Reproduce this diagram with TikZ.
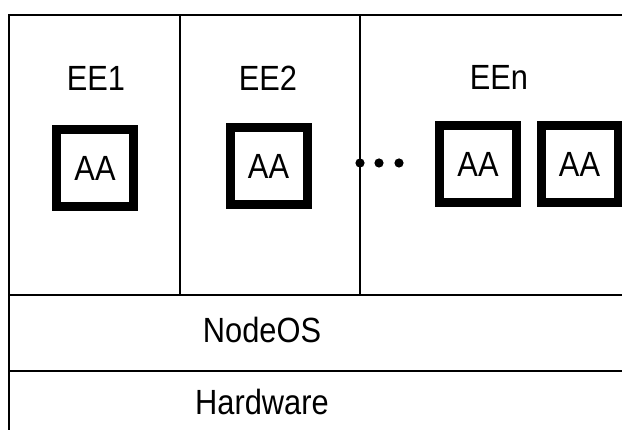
\documentclass[tikz,border=0pt]{standalone}
\usepackage{fontspec}
\setmainfont{Liberation Sans}
\newfontfamily\labelfont[FakeStretch=0.88]{Liberation Sans}
\usepackage{tikz}
\usetikzlibrary{positioning}

\begin{document}
\begin{tikzpicture}[
  x=1pt, y=-1pt,
  layer/.style={line width=1.6pt},
  lbl/.style={anchor=base, inner sep=0pt, font=\labelfont\fontsize{35}{40}\selectfont},
  aabox/.style={draw, line width=9pt, minimum size=77pt, inner sep=0pt, font=\labelfont\fontsize{35}{40}\selectfont}
]
  \useasboundingbox (0,0) rectangle (622,430);
  % frame and layers
  \draw[layer] (9,430) -- (9,15) -- (622,15);
  \draw[layer] (9,295) -- (622,295);
  \draw[layer] (9,371) -- (622,371);
  \draw[layer] (180,15) -- (180,295);
  \draw[layer] (360,15) -- (360,295);
  % execution environments
  \node[lbl] (ee1) at (96,91) {EE1};
  \node[lbl] (ee2) at (268,91) {EE2};
  \node[lbl] (een) at (499,90) {EEn};
  \node[aabox] (aa1) at (95,168) {AA};
  \node[aabox] (aa2) at (268.5,166) {AA};
  \node[aabox] (aa3) at (478,164) {AA};
  \node[aabox] (aa4) at (579.5,164) {AA};
  \foreach \x in {360,379,399}
    \fill (\x,163) circle (4.6);
  \node[lbl] (nodeos) at (262,343) {NodeOS};
  \node[lbl] (hw) at (262,415) {Hardware};
\end{tikzpicture}
\end{document}
